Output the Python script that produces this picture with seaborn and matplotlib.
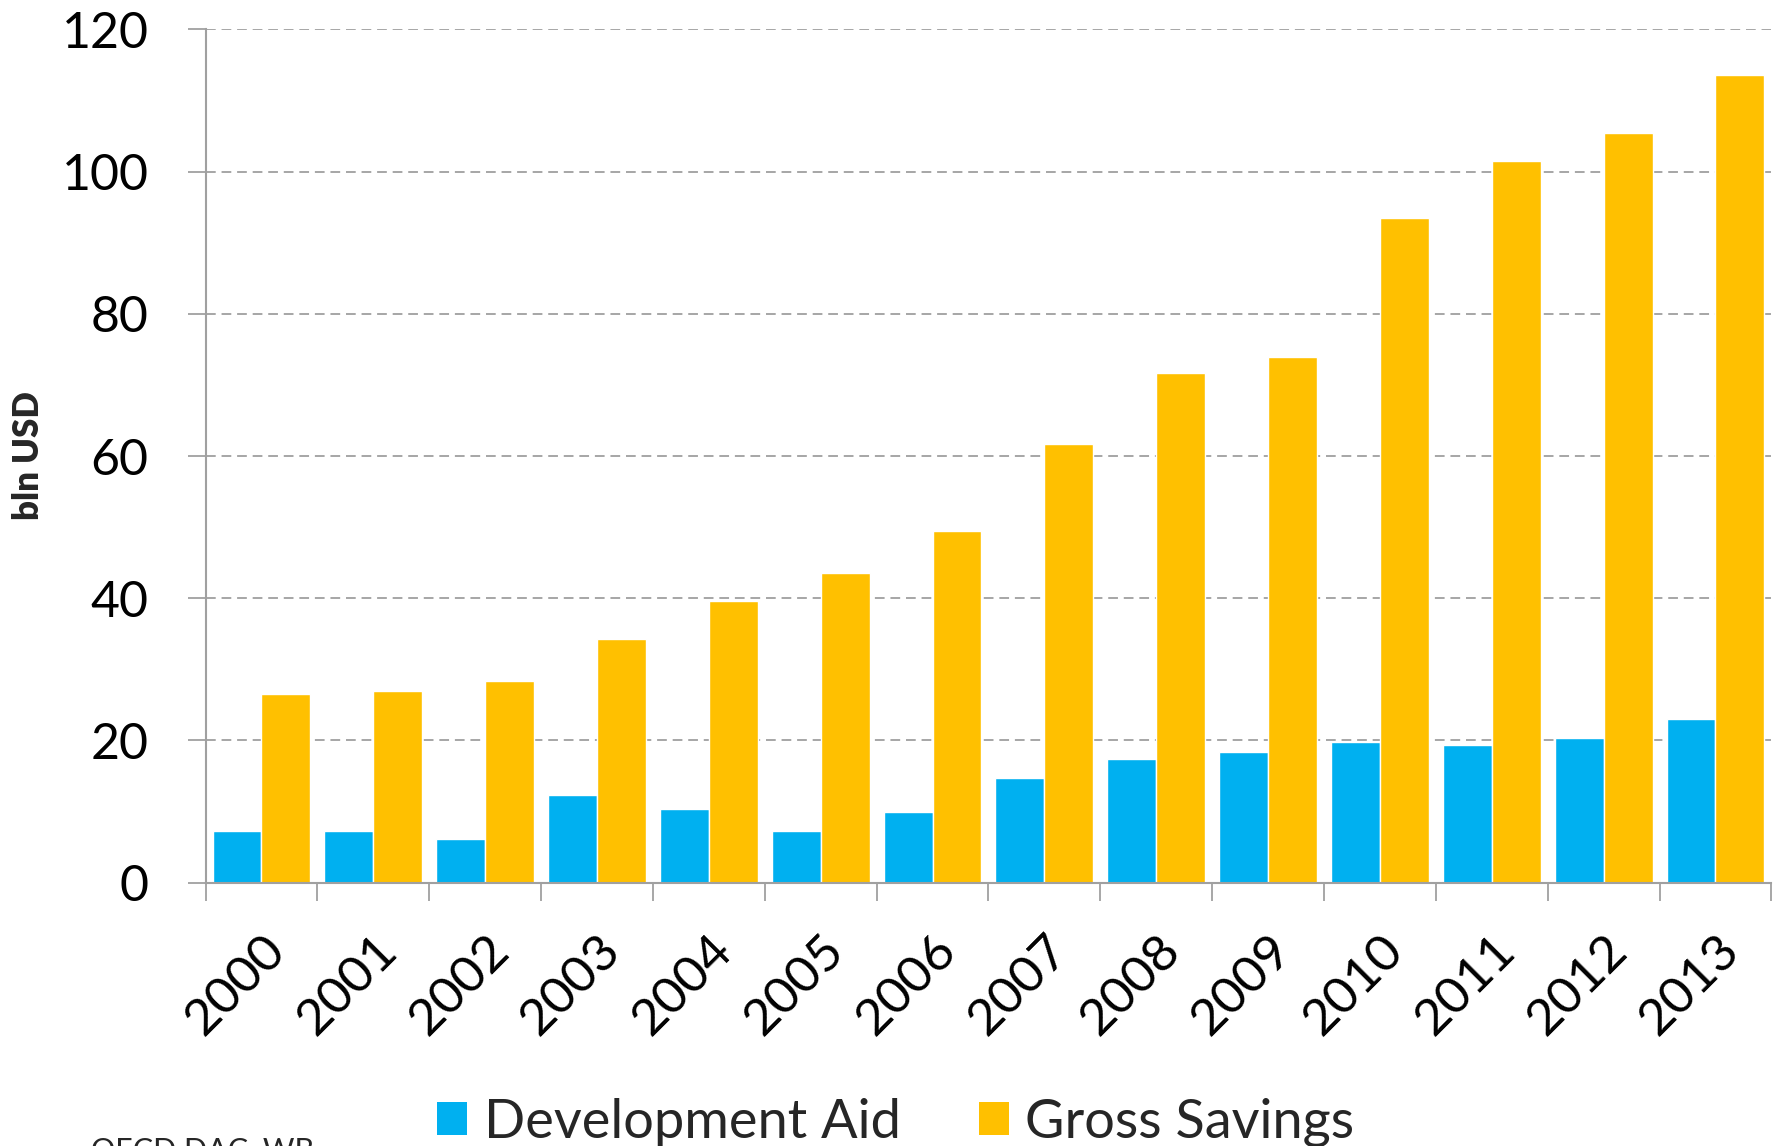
import matplotlib
matplotlib.use("Agg")
import matplotlib.pyplot as plt
from matplotlib.patches import Patch
import numpy as np
import pandas as pd
import seaborn as sns

# Data (bln USD)
years = ["2000", "2001", "2002", "2003", "2004", "2005", "2006",
         "2007", "2008", "2009", "2010", "2011", "2012", "2013"]
development_aid = [7.2, 7.2, 6.1, 12.3, 10.4, 7.3, 9.9,
                   14.7, 17.4, 18.4, 19.8, 19.4, 20.3, 23.0]
gross_savings = [26.5, 27.0, 28.3, 34.2, 39.6, 43.6, 49.4,
                 61.7, 71.7, 74.0, 93.5, 101.5, 105.5, 113.6]
series_names = ["Development Aid", "Gross Savings"]
y_ticks = [0, 20, 40, 60, 80, 100, 120]

df = pd.DataFrame({
    "year": years * 2,
    "value": development_aid + gross_savings,
    "series": [series_names[0]] * len(years) + [series_names[1]] * len(years),
})

colors = {"Development Aid": "#00B0F0", "Gross Savings": "#FFC000"}

sns.set_theme(style="white")
plt.rcParams["font.family"] = ["Lato", "DejaVu Sans"]

fig = plt.figure(figsize=(17.81, 11.46), dpi=100)
ax = fig.add_axes([0.1154, 0.2298, 0.9946 - 0.1154, 0.9743 - 0.2298])

sns.barplot(data=df, x="year", y="value", hue="series", order=years,
            hue_order=series_names, palette=colors, width=0.875, gap=0,
            saturation=1, errorbar=None, legend=False, ax=ax)

ax.set_xlim(-0.5, len(years) - 0.5)
ax.set_ylim(0, 120)
ax.set_yticks(y_ticks)
ax.set_yticklabels([str(t) for t in y_ticks])

# dashed horizontal gridlines (none at zero, where the axis line sits)
for t in y_ticks[1:]:
    ax.axhline(t, color="#A6A6A6", lw=1.4, ls=(0, (5, 3)), zorder=0)

for side in ["top", "right"]:
    ax.spines[side].set_visible(False)
for side in ["left", "bottom"]:
    ax.spines[side].set_color("#A0A0A0")
    ax.spines[side].set_linewidth(1.5)

ax.tick_params(axis="y", which="major", length=13, width=1.3, color="#A0A0A0",
               direction="out", pad=28, labelsize=36, labelcolor="black", left=True)

# category boundary ticks on the x axis, labels at category centres
ax.set_xticks(np.arange(-0.5, len(years), 1.0), minor=True)
ax.tick_params(axis="x", which="minor", length=13, width=1.3, color="#A0A0A0",
               direction="out", bottom=True)
ax.tick_params(axis="x", which="major", length=0, pad=32, labelsize=37,
               labelcolor="black")
for lbl in ax.get_xticklabels():
    lbl.set_rotation(45)
    lbl.set_ha("right")
    lbl.set_rotation_mode("anchor")

ax.set_xlabel("")
ax.set_ylabel("")
fig.text(29 / 1781, 1 - 456 / 1146, "bln USD", rotation=90, ha="center",
         va="center", fontsize=25, fontweight="heavy")

handles = [Patch(facecolor=colors[s], edgecolor="none") for s in series_names]
fig.legend(handles, series_names, loc="lower center",
           bbox_to_anchor=(0.503, -0.02), ncol=2, frameon=False, fontsize=39,
           handlelength=0.55, handleheight=0.55, handletextpad=0.3,
           columnspacing=1.45, borderaxespad=0)

fig.text(91 / 1781, 1 - 1137 / 1146, "OECD DAC, WB", ha="left", va="top",
         fontsize=22)

fig.savefig("out.png", dpi=100)
